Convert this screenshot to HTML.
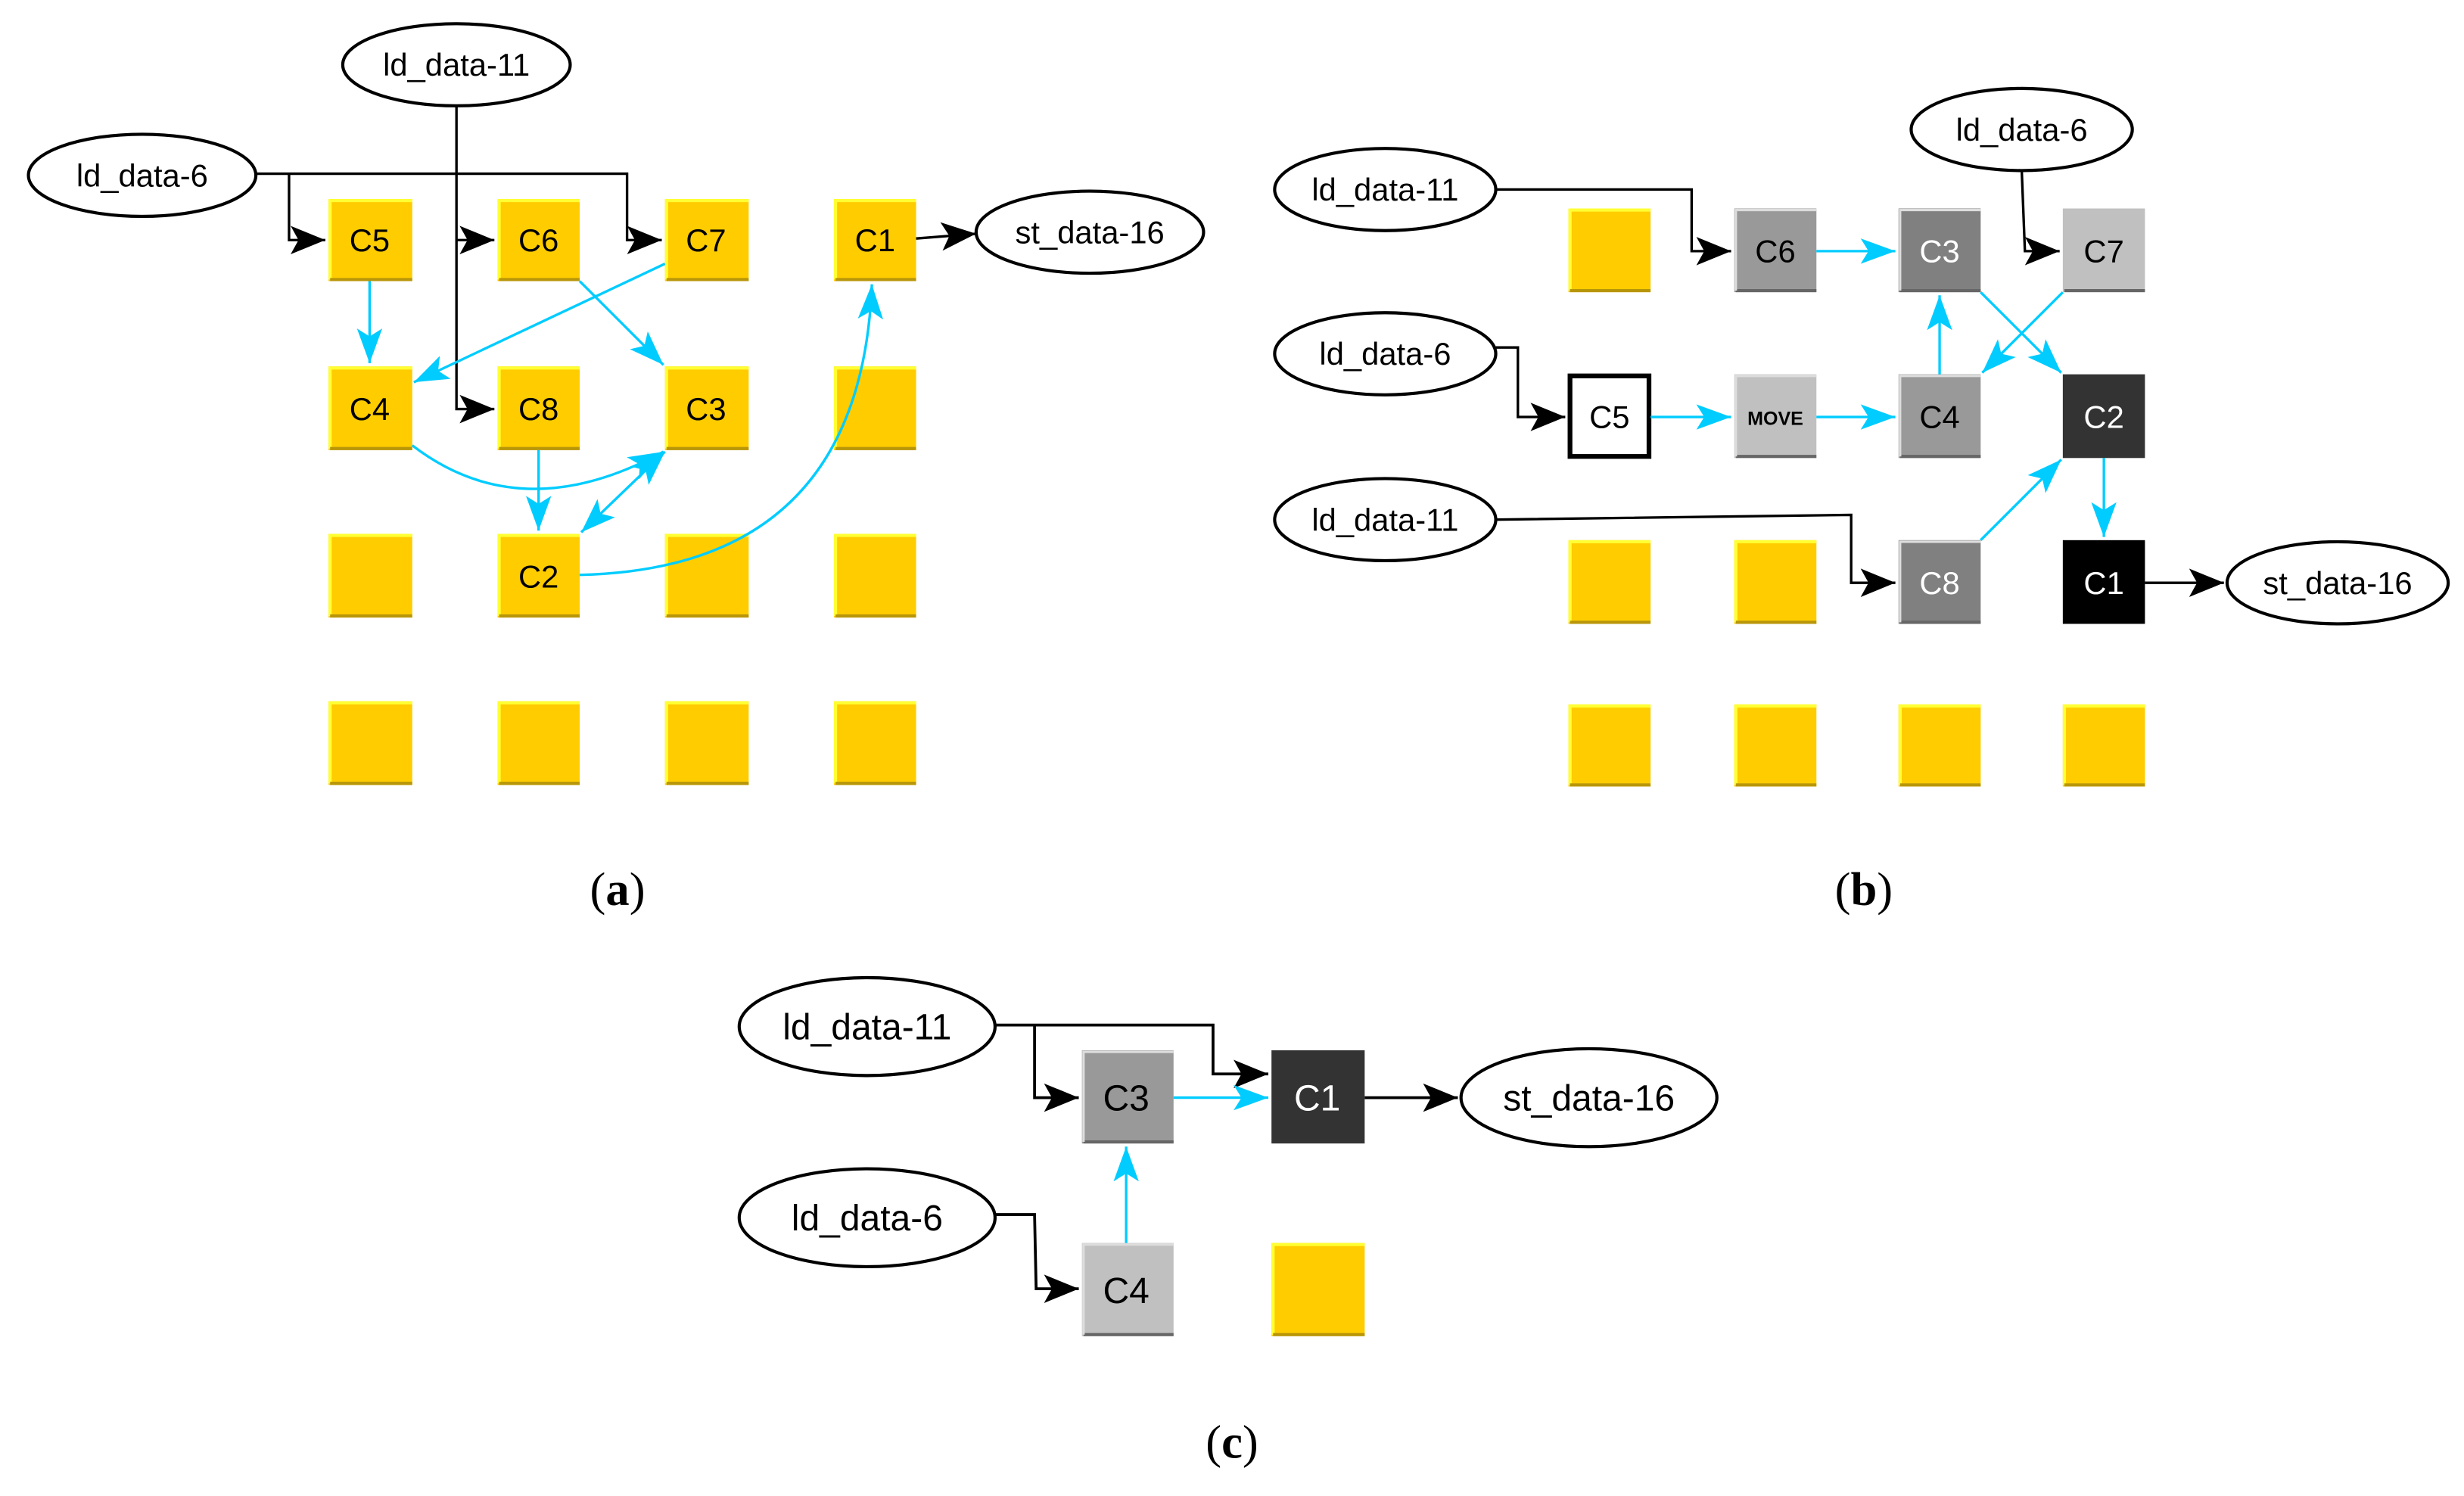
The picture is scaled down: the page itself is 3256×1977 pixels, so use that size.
<!DOCTYPE html>
<html><head><meta charset="utf-8"><style>
html,body{margin:0;padding:0;background:#fff;}
svg{display:block;}
text{font-family:"Liberation Sans",Arial,sans-serif;}
text.cap{font-family:"Liberation Serif","Times New Roman",serif;}
</style></head><body>
<svg width="3256" height="1977" viewBox="0 0 1560 947.2" preserveAspectRatio="none" xmlns="http://www.w3.org/2000/svg">
<defs>
<marker id="ab" markerUnits="userSpaceOnUse" markerWidth="24" markerHeight="20" refX="22" refY="10" orient="auto">
<path d="M0,1 L22,10 L0,19 L5,10 z" fill="#000"/></marker>
<marker id="ac" markerUnits="userSpaceOnUse" markerWidth="24" markerHeight="20" refX="22" refY="10" orient="auto">
<path d="M0,2 L22,10 L0,18 L5,10 z" fill="#00CCFF"/></marker>
<marker id="acs" markerUnits="userSpaceOnUse" markerWidth="24" markerHeight="20" refX="2" refY="10" orient="auto">
<path d="M24,2 L2,10 L24,18 L19,10 z" fill="#00CCFF"/></marker>
</defs>
<g fill="#FFCC00">
<rect x="208" y="126" width="53" height="52"/><rect x="315" y="126" width="52" height="52"/><rect x="421" y="126" width="53" height="52"/><rect x="528" y="126" width="52" height="52"/>
<rect x="208" y="232" width="53" height="53"/><rect x="315" y="232" width="52" height="53"/><rect x="421" y="232" width="53" height="53"/><rect x="528" y="232" width="52" height="53"/>
<rect x="208" y="338" width="53" height="53"/><rect x="315" y="338" width="52" height="53"/><rect x="421" y="338" width="53" height="53"/><rect x="528" y="338" width="52" height="53"/>
<rect x="208" y="444" width="53" height="53"/><rect x="315" y="444" width="52" height="53"/><rect x="421" y="444" width="53" height="53"/><rect x="528" y="444" width="52" height="53"/>
<rect x="993" y="132" width="52" height="53"/>
<rect x="993" y="342" width="52" height="53"/><rect x="1098" y="342" width="52" height="53"/>
<rect x="993" y="446" width="52" height="52"/><rect x="1098" y="446" width="52" height="52"/><rect x="1202" y="446" width="52" height="52"/><rect x="1306" y="446" width="52" height="52"/>
<rect x="805" y="787" width="59" height="59"/>
</g>
<g fill="none" stroke="#FFFF33" stroke-width="2">
<path d="M209,177V127H261 M316,177V127H367 M422,177V127H474 M529,177V127H580"/>
<path d="M209,284V233H261 M316,284V233H367 M422,284V233H474 M529,284V233H580"/>
<path d="M209,390V339H261 M316,390V339H367 M422,390V339H474 M529,390V339H580"/>
<path d="M209,496V445H261 M316,496V445H367 M422,496V445H474 M529,496V445H580"/>
<path d="M994,184V133H1045 M994,394V343H1045 M1099,394V343H1150"/>
<path d="M994,497V447H1045 M1099,497V447H1150 M1203,497V447H1254 M1307,497V447H1358"/>
<path d="M806,845V788H864"/>
</g>
<g fill="none" stroke="#B8960A" stroke-width="2">
<path d="M209,177H261 M316,177H367 M422,177H474 M529,177H580"/>
<path d="M209,284H261 M316,284H367 M422,284H474 M529,284H580"/>
<path d="M209,390H261 M316,390H367 M422,390H474 M529,390H580"/>
<path d="M209,496H261 M316,496H367 M422,496H474 M529,496H580"/>
<path d="M994,184H1045 M994,394H1045 M1099,394H1150"/>
<path d="M994,497H1045 M1099,497H1150 M1203,497H1254 M1307,497H1358"/>
<path d="M806,845H864"/>
</g>
<rect x="1098" y="132" width="52" height="53" fill="#999"/>
<rect x="1202" y="132" width="52" height="53" fill="#808080"/>
<rect x="1306" y="132" width="52" height="53" fill="#C0C0C0"/>
<rect x="994" y="238" width="50" height="51" fill="#fff" stroke="#000" stroke-width="3"/>
<rect x="1098" y="237" width="52" height="53" fill="#C0C0C0"/>
<rect x="1202" y="237" width="52" height="53" fill="#999"/>
<rect x="1306" y="237" width="52" height="53" fill="#333"/>
<rect x="1202" y="342" width="52" height="53" fill="#808080"/>
<rect x="1306" y="342" width="52" height="53" fill="#000"/>
<rect x="685" y="665" width="58" height="59" fill="#999"/>
<rect x="805" y="665" width="59" height="59" fill="#333"/>
<rect x="685" y="787" width="58" height="59" fill="#C0C0C0"/>
<g fill="none" stroke="#666" stroke-width="2">
<path d="M1099,184H1150 M1203,184H1254 M1307,184H1358 M1099,289H1150 M1203,289H1254 M1203,394H1254 M686,723H743 M686,845H743"/>
</g>
<g fill="none" stroke="#ddd" stroke-width="1.5">
<path d="M1099,184V133H1150 M1203,184V133H1254 M1099,289V238H1150 M1203,289V238H1254 M1203,394V343H1254 M686,723V666H743 M686,845V788H743"/>
</g>
<g fill="#fff" stroke="#000" stroke-width="2">
<ellipse cx="289" cy="41" rx="72" ry="26"/>
<ellipse cx="90" cy="111" rx="72" ry="26"/>
<ellipse cx="690" cy="147" rx="72" ry="26"/>
<ellipse cx="877" cy="120" rx="70" ry="26"/>
<ellipse cx="877" cy="224" rx="70" ry="26"/>
<ellipse cx="877" cy="329" rx="70" ry="26"/>
<ellipse cx="1280" cy="82" rx="70" ry="26"/>
<ellipse cx="1480" cy="369" rx="70" ry="26"/>
<ellipse cx="549" cy="650" rx="81" ry="31"/>
<ellipse cx="549" cy="771" rx="81" ry="31"/>
<ellipse cx="1006" cy="695" rx="81" ry="31"/>
</g>
<g fill="none" stroke="#000" stroke-width="1.6">
<path d="M162,110H397V152H419" marker-end="url(#ab)"/>
<path d="M183,110V152H206" marker-end="url(#ab)"/>
<path d="M289,67V259H313" marker-end="url(#ab)"/>
<path d="M289,152H313" marker-end="url(#ab)"/>
<path d="M580,151L618,148" marker-end="url(#ab)"/>
<path d="M947,120H1071V159H1096" marker-end="url(#ab)"/>
<path d="M1280,108L1282,159H1304" marker-end="url(#ab)"/>
<path d="M947,220H961V264H991" marker-end="url(#ab)"/>
<path d="M947,329L1172,326V369H1200" marker-end="url(#ab)"/>
<path d="M1358,369H1408" marker-end="url(#ab)"/>
<path d="M630,649H768V680H803" marker-end="url(#ab)" stroke-width="1.8"/>
<path d="M655,649V695H683" marker-end="url(#ab)" stroke-width="1.8"/>
<path d="M630,769H655L656,816H683" marker-end="url(#ab)" stroke-width="1.8"/>
<path d="M864,695H923" marker-end="url(#ab)" stroke-width="1.8"/>
</g>
<g fill="none" stroke="#00CCFF" stroke-width="1.6">
<path d="M234,178V230" marker-end="url(#ac)"/>
<path d="M421,167L262,242" marker-end="url(#ac)"/>
<path d="M367,178L420,231" marker-end="url(#ac)"/>
<path d="M261,282Q330,335 420,286" marker-end="url(#ac)"/>
<path d="M341,285V336" marker-end="url(#ac)"/>
<path d="M421,286L368,337" marker-end="url(#ac)" marker-start="url(#acs)"/>
<path d="M367,364Q545,360 552,180" marker-end="url(#ac)"/>
<path d="M1150,159H1200" marker-end="url(#ac)"/>
<path d="M1045,264H1096" marker-end="url(#ac)"/>
<path d="M1150,264H1200" marker-end="url(#ac)"/>
<path d="M1228,237V187" marker-end="url(#ac)"/>
<path d="M1254,185L1305,236" marker-end="url(#ac)"/>
<path d="M1306,185L1255,236" marker-end="url(#ac)"/>
<path d="M1254,342L1305,291" marker-end="url(#ac)"/>
<path d="M1332,290V340" marker-end="url(#ac)"/>
<path d="M743,695H803" marker-end="url(#ac)"/>
<path d="M713,787V726" marker-end="url(#ac)"/>
</g>
<g font-size="20" text-anchor="middle" fill="#000">
<text x="234" y="159">C5</text><text x="341" y="159">C6</text><text x="447" y="159">C7</text><text x="554" y="159">C1</text>
<text x="234" y="266">C4</text><text x="341" y="266">C8</text><text x="447" y="266">C3</text>
<text x="341" y="372">C2</text>
<text x="289" y="48">ld_data-11</text><text x="90" y="118">ld_data-6</text><text x="690" y="154">st_data-16</text>
<text x="1124" y="166">C6</text><text x="1332" y="166">C7</text>
<text x="1019" y="271">C5</text><text x="1124" y="269" font-size="12" font-weight="bold">MOVE</text><text x="1228" y="271">C4</text>
<text x="877" y="127">ld_data-11</text><text x="877" y="231">ld_data-6</text><text x="877" y="336">ld_data-11</text>
<text x="1280" y="89">ld_data-6</text><text x="1480" y="376">st_data-16</text>
</g>
<g font-size="20" text-anchor="middle" fill="#fff">
<text x="1228" y="166">C3</text><text x="1332" y="271">C2</text><text x="1228" y="376">C8</text><text x="1332" y="376">C1</text>
</g>
<g font-size="23" text-anchor="middle">
<text x="713" y="703" fill="#000">C3</text><text x="834" y="703" fill="#fff">C1</text><text x="713" y="825" fill="#000">C4</text>
<text x="549" y="658">ld_data-11</text><text x="549" y="779">ld_data-6</text><text x="1006" y="703">st_data-16</text>
</g>
<g font-size="30" text-anchor="middle" fill="#000">
<text class="cap" x="391" y="573">(<tspan font-weight="bold">a</tspan>)</text>
<text class="cap" x="1180" y="573">(<tspan font-weight="bold">b</tspan>)</text>
<text class="cap" x="780" y="923">(<tspan font-weight="bold">c</tspan>)</text>
</g>
</svg>
</body></html>
